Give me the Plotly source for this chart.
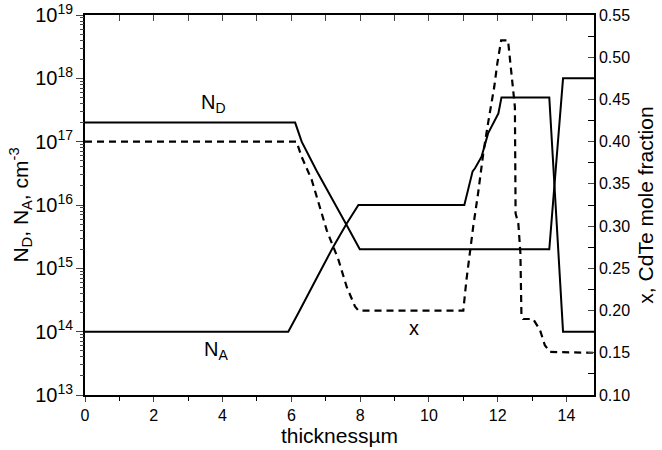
import plotly.graph_objects as go

# ---- data ----
thickness_ND = [0, 6.11, 6.30, 6.73, 7.61, 7.99, 13.50, 13.90, 14.8]
ND = [2e17, 2e17, 1e17, 3.5e16, 4.8e15, 2e15, 2e15, 1e18, 1e18]

thickness_NA = [0, 5.91, 6.20, 6.44, 6.73, 7.22, 7.61, 7.95, 11.03, 11.27, 11.34,
                11.53, 11.72, 12.02, 12.11, 13.50, 13.90, 14.8]
NA = [1e14, 1e14, 1.95e14, 3.5e14, 6.9e14, 2.2e15, 5.1e15, 1e16, 1e16, 3.4e16, 3.8e16,
      5.8e16, 1.35e17, 2.8e17, 5e17, 5e17, 1e14, 1e14]

thickness_x = [0, 6.15, 6.30, 6.59, 7.03, 7.37, 7.61, 7.85, 7.95, 11.0, 11.09, 11.19,
               11.29, 11.43, 11.58, 11.72, 11.90, 11.99, 12.10, 12.30, 12.45, 12.50,
               12.52, 12.60, 12.66, 12.69, 12.74, 13.03, 13.23, 13.37, 13.52, 14.8]
x_frac = [0.40, 0.40, 0.382, 0.355, 0.295, 0.26, 0.228, 0.205, 0.20, 0.20, 0.236, 0.272,
          0.30, 0.339, 0.386, 0.422, 0.465, 0.493, 0.52, 0.52, 0.457, 0.441,
          0.315, 0.303, 0.268, 0.195, 0.19, 0.19, 0.177, 0.159, 0.151, 0.15]

x_range = [0, 14.8]
ylog_range = [13, 19]
yfrac_range = [0.10, 0.55]
log_decades = list(range(13, 19))
minor_log_ticks = [m * 10 ** d for d in log_decades for m in range(2, 10)]

FONT = "Liberation Sans, Arial, sans-serif"

fig = go.Figure()
fig.add_trace(go.Scatter(x=thickness_ND, y=ND, mode="lines",
                         line=dict(color="black", width=2), showlegend=False))
fig.add_trace(go.Scatter(x=thickness_NA, y=NA, mode="lines",
                         line=dict(color="black", width=2), showlegend=False))
fig.add_trace(go.Scatter(x=thickness_x, y=x_frac, mode="lines", xaxis="x2", yaxis="y2",
                         line=dict(color="black", width=2.2, dash="7px,5px"),
                         showlegend=False))
# invisible carrier trace for the minor-tick log axis
fig.add_trace(go.Scatter(x=thickness_ND, y=ND, mode="lines", yaxis="y3",
                         line=dict(color="rgba(0,0,0,0)", width=0), hoverinfo="skip",
                         showlegend=False))

fig.update_layout(
    width=662, height=450,
    margin=dict(l=85, r=68, t=15, b=55),
    paper_bgcolor="white", plot_bgcolor="white",
    font=dict(family=FONT, color="black", size=16),
    xaxis=dict(range=x_range, dtick=2, tick0=0, ticks="outside", ticklen=5, tickwidth=1,
               showline=True, linecolor="black", linewidth=1.5, showgrid=False, zeroline=False,
               automargin=False,
               minor=dict(dtick=1, ticks="outside", ticklen=4, tickcolor="black", showgrid=False),
               title=dict(text="thicknessµm", font=dict(size=21), standoff=0),
               tickfont=dict(size=16)),
    xaxis2=dict(range=x_range, overlaying="x", side="top", dtick=1, tick0=0,
                ticks="inside", ticklen=6, showticklabels=False, showline=True,
                linecolor="black", linewidth=1.5, showgrid=False, zeroline=False,
                automargin=False),
    yaxis=dict(type="log", range=ylog_range, dtick=1, exponentformat="power",
               ticks="outside", ticklen=7, tickwidth=1, showline=True, linecolor="black",
               linewidth=1.5, showgrid=False, zeroline=False, automargin=False,
               ticklabeloverflow="allow",
               title=dict(text="N<sub>D</sub>, N<sub>A</sub>, cm<sup>-3</sup>",
                          font=dict(size=21), standoff=0),
               tickfont=dict(size=16)),
    yaxis3=dict(type="log", range=ylog_range, overlaying="y", side="left",
                tickvals=minor_log_ticks, ticks="outside", ticklen=4, tickwidth=1,
                showticklabels=False, showline=False, showgrid=False, zeroline=False,
                automargin=False),
    yaxis2=dict(range=yfrac_range, overlaying="y", side="right", anchor="x2",
                dtick=0.05, tick0=0.10, tickformat=".2f", ticks="inside", ticklen=6,
                showline=True, linecolor="black", linewidth=1.5, showgrid=False, zeroline=False,
                automargin=False, ticklabeloverflow="allow",
                minor=dict(dtick=0.025, ticks="inside", ticklen=6, tickcolor="black", showgrid=False),
                title=dict(text="x, CdTe mole fraction", font=dict(size=21), standoff=9),
                tickfont=dict(size=16)),
    annotations=[
        dict(x=3.75, y=17.61, xref="x", yref="y", text="N<sub>D</sub>", showarrow=False,
             font=dict(size=20)),
        dict(x=3.8, y=13.71, xref="x", yref="y", text="N<sub>A</sub>", showarrow=False,
             font=dict(size=20)),
        dict(x=9.56, y=0.179, xref="x2", yref="y2", text="x", showarrow=False,
             font=dict(size=20)),
    ],
)

# remove the default 8px page margin so the figure fills the 662x450 window
fig.write_html("out.html", config={"displayModeBar": False},
               post_script="document.body.style.margin='0px';")
